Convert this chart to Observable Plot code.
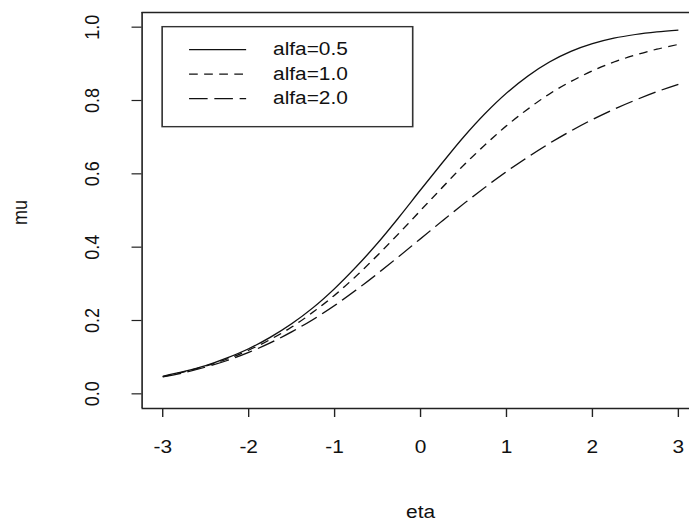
<!DOCTYPE html>
<html>
<head>
<meta charset="utf-8">
<script src="https://cdn.jsdelivr.net/npm/d3@7"></script>
<script src="https://cdn.jsdelivr.net/npm/@observablehq/plot@0.6"></script>
<style>
  html, body { margin: 0; padding: 0; background: #fff; }
  #chart { width: 689px; height: 525px; overflow: hidden; }
</style>
</head>
<body>
<div id="chart"></div>
<script>
// eta values (x)
const eta = [-3, -2.75, -2.5, -2.25, -2, -1.75, -1.5, -1.25, -1, -0.75, -0.5, -0.25, 0,
             0.25, 0.5, 0.75, 1, 1.25, 1.5, 1.75, 2, 2.25, 2.5, 2.75, 3];
// mu values for each curve
const muAlfa05 = [0.048, 0.061, 0.077, 0.098, 0.123, 0.154, 0.191, 0.235, 0.287, 0.346, 0.411, 0.482, 0.556,
                  0.629, 0.700, 0.764, 0.820, 0.867, 0.905, 0.934, 0.955, 0.970, 0.980, 0.987, 0.992];
const muAlfa10 = [0.047, 0.060, 0.076, 0.095, 0.119, 0.148, 0.182, 0.223, 0.269, 0.321, 0.378, 0.438, 0.500,
                  0.562, 0.623, 0.679, 0.731, 0.777, 0.818, 0.852, 0.881, 0.905, 0.924, 0.940, 0.953];
const muAlfa20 = [0.046, 0.058, 0.073, 0.091, 0.113, 0.139, 0.169, 0.203, 0.241, 0.283, 0.328, 0.375, 0.423,
                  0.471, 0.518, 0.563, 0.606, 0.646, 0.683, 0.717, 0.748, 0.776, 0.801, 0.824, 0.844];
const seriesLabels = ["alfa=0.5", "alfa=1.0", "alfa=2.0"];
const seriesDash = ["none", "7.5,5.5", "16,5.8"];
const xTicks = [-3, -2, -1, 0, 1, 2, 3];
const yTicks = [0.0, 0.2, 0.4, 0.6, 0.8, 1.0];
const xLabel = "eta";
const yLabel = "mu";

const seriesValues = [muAlfa05, muAlfa10, muAlfa20];
const rows = [];
seriesValues.forEach((vals, s) => {
  vals.forEach((v, i) => rows.push({series: seriesLabels[s], eta: eta[i], mu: v}));
});

// the reference is horizontally stretched; draw in compressed units and stretch
const SX = 1.16;
const W = 594;
const xDomain = [-3.24, 3.131];
const yDomain = [-0.04, 1.04];
const ink = "#111";
const fontFamily = "'Liberation Sans', Arial, Helvetica, sans-serif";

const marks = [
  Plot.ruleY(yDomain, {stroke: "#222", strokeWidth: 1.4}),
  Plot.ruleX([xDomain[0]], {stroke: "#222", strokeWidth: 1.4}),
  Plot.axisX({ticks: xTicks, tickSize: 9, tickFormat: () => "", label: null, stroke: "#222", strokeWidth: 1.2}),
  Plot.axisY({ticks: yTicks, tickSize: 8.6, tickFormat: () => "", label: null, stroke: "#222", strokeWidth: 1.2}),
  Plot.text(xTicks, {x: d => d, text: d => String(d), frameAnchor: "bottom", dy: 44, fill: ink}),
  Plot.text(yTicks, {y: d => d, text: d => d3.format(".1f")(d), frameAnchor: "left", textAnchor: "middle", rotate: -90, dx: -42.7, fill: ink}),
  Plot.text([xLabel], {x: () => 0, text: d => d, frameAnchor: "bottom", dy: 109, fill: ink}),
  Plot.text([yLabel], {text: d => d, frameAnchor: "left", textAnchor: "middle", rotate: -90, dx: -104.8, dy: 2, fill: ink})
];
seriesLabels.forEach((lab, s) => {
  marks.push(Plot.line(rows.filter(r => r.series === lab), {
    x: "eta", y: "mu", curve: "catmull-rom",
    stroke: "#111", strokeWidth: 1.25,
    strokeDasharray: seriesDash[s] === "none" ? undefined : seriesDash[s],
    strokeLinecap: "butt"
  }));
});

const svg = Plot.plot({
  width: W,
  height: 525,
  marginLeft: 122,
  marginRight: 0,
  marginTop: 12,
  marginBottom: 117,
  x: {domain: xDomain, axis: null},
  y: {domain: yDomain, axis: null},
  style: {
    fontFamily: fontFamily,
    fontSize: "18px",
    background: "#fff",
    color: ink,
    transform: `scaleX(${SX})`,
    transformOrigin: "0 0",
    overflow: "visible"
  },
  marks
});

// Legend (R legend at x=-3, y=1.0, top-left corner)
const sx = svg.scale("x"), sy = svg.scale("y");
const lx = sx.apply(xTicks[0]), ly = sy.apply(yTicks[yTicks.length - 1]);
const g = d3.select(svg).append("g").attr("transform", `translate(${lx},${ly})`);
g.append("rect").attr("x", 0).attr("y", 0).attr("width", 216).attr("height", 100)
  .attr("fill", "none").attr("stroke", "#333").attr("stroke-width", 1.4);
seriesLabels.forEach((lab, s) => {
  const yy = 23 + s * 24.5;
  const ln = g.append("line").attr("x1", 23.2).attr("x2", 72.4).attr("y1", yy).attr("y2", yy)
    .attr("stroke", "#111").attr("stroke-width", 1.25).attr("stroke-linecap", "butt");
  if (seriesDash[s] !== "none") ln.attr("stroke-dasharray", seriesDash[s]);
  g.append("text").attr("x", 95.6).attr("y", yy).attr("dy", "0.32em")
    .attr("text-anchor", "start")
    .attr("fill", ink).attr("font-family", fontFamily).attr("font-size", 18).text(lab);
});

document.getElementById("chart").appendChild(svg);
</script>
</body>
</html>
